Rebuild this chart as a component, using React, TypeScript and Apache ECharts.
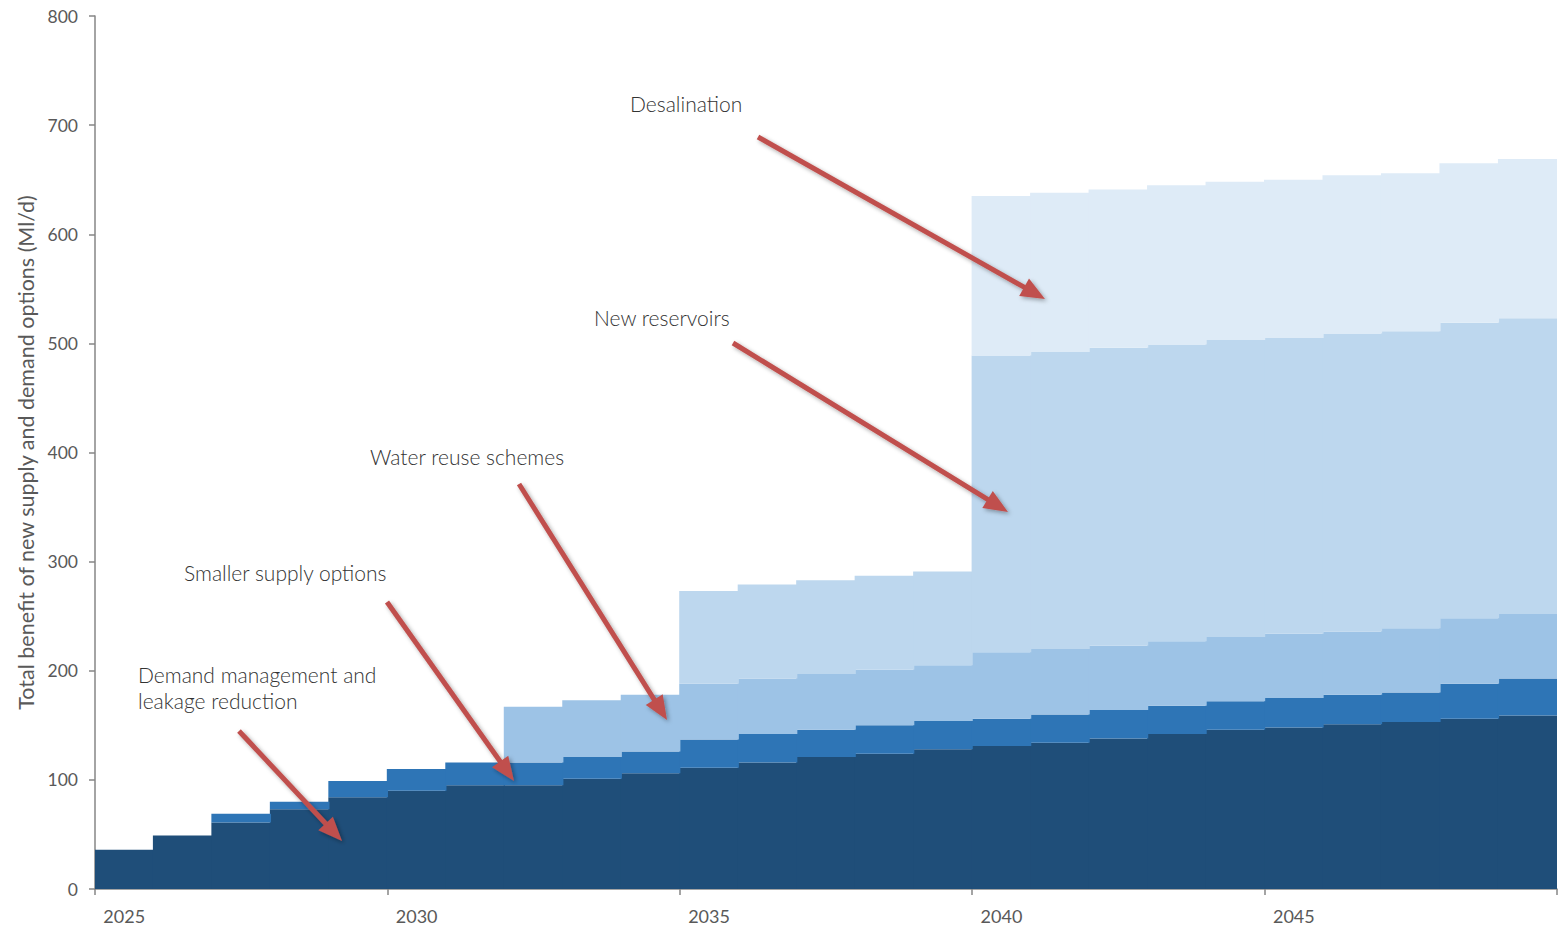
import React, { useEffect, useRef } from "react";
import * as echarts from "echarts";

const years = [
  "2025", "2026", "2027", "2028", "2029", "2030", "2031", "2032", "2033", "2034",
  "2035", "2036", "2037", "2038", "2039", "2040", "2041", "2042", "2043", "2044",
  "2045", "2046", "2047", "2048", "2049",
];

const demandManagement = [36, 49, 61, 73, 84, 90, 95, 95, 101, 106, 111, 116, 121, 124, 128, 131, 134, 138, 142, 146, 148, 151, 153, 156, 159];
const smallerSupply = [0, 0, 8, 7, 15, 20, 21, 21, 20, 20, 26, 26, 25, 26, 26, 25, 26, 26, 26, 26, 27, 27, 27, 32, 34];
const waterReuse = [0, 0, 0, 0, 0, 0, 0, 51, 52, 52, 51, 51, 51, 51, 51, 61, 60, 59, 59, 59, 59, 58, 59, 60, 59];
const newReservoirs = [0, 0, 0, 0, 0, 0, 0, 0, 0, 0, 85, 86, 86, 86, 86, 272, 272, 273, 272, 272, 271, 273, 272, 271, 271];
const desalination = [0, 0, 0, 0, 0, 0, 0, 0, 0, 0, 0, 0, 0, 0, 0, 146, 146, 145, 146, 145, 145, 145, 145, 146, 146];

const seriesNames = [
  "Demand management and leakage reduction",
  "Smaller supply options",
  "Water reuse schemes",
  "New reservoirs",
  "Desalination",
];
const seriesColors = ["#1F4E79", "#2E75B6", "#9DC3E6", "#BDD7EE", "#DEEBF7"];

const yTitle = "Total benefit of new supply and demand options (Ml/d)";

// annotation labels: [text lines, left x, center y of first line]
const annotations: { lines: string[]; x: number; y: number }[] = [
  { lines: ["Desalination"], x: 630, y: 103 },
  { lines: ["New reservoirs"], x: 594, y: 317 },
  { lines: ["Water reuse schemes"], x: 370, y: 456 },
  { lines: ["Smaller supply options"], x: 184, y: 572 },
  { lines: ["Demand management and", "leakage reduction"], x: 138, y: 674 },
];

// arrows: start (x1,y1) -> tip (x2,y2)
const arrows: [number, number, number, number][] = [
  [758, 137, 1045, 299],
  [733, 343, 1008, 512],
  [519, 484, 667, 720],
  [387, 602, 514, 781],
  [239, 731, 342, 841],
];

function buildArrow(a: [number, number, number, number]) {
  const [x1, y1, x2, y2] = a;
  const ang = Math.atan2(y2 - y1, x2 - x1);
  const L = 24;
  const W = 10;
  const bx = x2 - L * Math.cos(ang);
  const by = y2 - L * Math.sin(ang);
  const px = -Math.sin(ang);
  const py = Math.cos(ang);
  const shadow = {
    shadowBlur: 4,
    shadowColor: "rgba(0,0,0,0.35)",
    shadowOffsetX: 2,
    shadowOffsetY: 2,
  };
  return [
    {
      type: "line",
      shape: { x1, y1, x2: bx + 2 * Math.cos(ang), y2: by + 2 * Math.sin(ang) },
      style: { stroke: "#C0504D", lineWidth: 5, lineCap: "butt", ...shadow },
      z: 100,
    },
    {
      type: "polygon",
      shape: {
        points: [
          [x2, y2],
          [bx + px * W, by + py * W],
          [bx - px * W, by - py * W],
        ],
      },
      style: { fill: "#C0504D", ...shadow },
      z: 100,
    },
  ];
}

const FONT = "Lato, 'Open Sans', sans-serif";

export default function App() {
  const ref = useRef<HTMLDivElement>(null);

  useEffect(() => {
    if (!ref.current) return;
    const chart = echarts.init(ref.current, undefined, { renderer: "svg" });
    const data = [demandManagement, smallerSupply, waterReuse, newReservoirs, desalination];

    const graphics: any[] = [];
    annotations.forEach((an) => {
      an.lines.forEach((line, i) => {
        graphics.push({
          type: "text",
          x: an.x,
          y: an.y + i * 26,
          z: 100,
          style: {
            text: line,
            fill: "#333333",
            fontSize: 21,
            fontWeight: 300,
            fontFamily: FONT,
            verticalAlign: "middle",
            align: "left",
          },
        });
      });
    });
    arrows.forEach((a) => graphics.push(...buildArrow(a)));

    chart.setOption({
      animation: false,
      backgroundColor: "#ffffff",
      grid: { left: 95, right: 8, top: 16, bottom: 42, containLabel: false },
      xAxis: {
        type: "category",
        data: years,
        boundaryGap: true,
        axisLine: { show: true, lineStyle: { color: "#868686", width: 1.5 } },
        axisTick: { show: true, interval: 4, length: 6, lineStyle: { color: "#868686", width: 1.5 } },
        axisLabel: {
          interval: 4,
          color: "#595959",
          fontSize: 18,
          margin: 18,
          fontFamily: FONT,
        },
        splitLine: { show: false },
      },
      yAxis: {
        type: "value",
        min: 0,
        max: 800,
        interval: 100,
        name: yTitle,
        nameLocation: "middle",
        nameGap: 57,
        nameTextStyle: {
          color: "#595959",
          fontSize: 21.5,
          fontFamily: FONT,
        },
        axisLine: { show: true, lineStyle: { color: "#868686", width: 1.5 } },
        axisTick: { show: true, length: 6, lineStyle: { color: "#868686", width: 1.5 } },
        axisLabel: {
          color: "#595959",
          fontSize: 17.5,
          margin: 17,
          fontFamily: FONT,
        },
        splitLine: { show: false },
      },
      series: data.map((d, i) => ({
        name: seriesNames[i],
        type: "bar",
        stack: "total",
        data: d.map((v) => (v === 0 ? "-" : v)),
        barWidth: "102%",
        barGap: "-100%",
        itemStyle: { color: seriesColors[i], borderWidth: 0 },
        emphasis: { disabled: true },
      })),
      graphic: graphics,
    });

    return () => chart.dispose();
  }, []);

  return (
    <div
      ref={ref}
      style={{ position: "fixed", left: 0, top: 0, width: 1565, height: 931 }}
    />
  );
}
